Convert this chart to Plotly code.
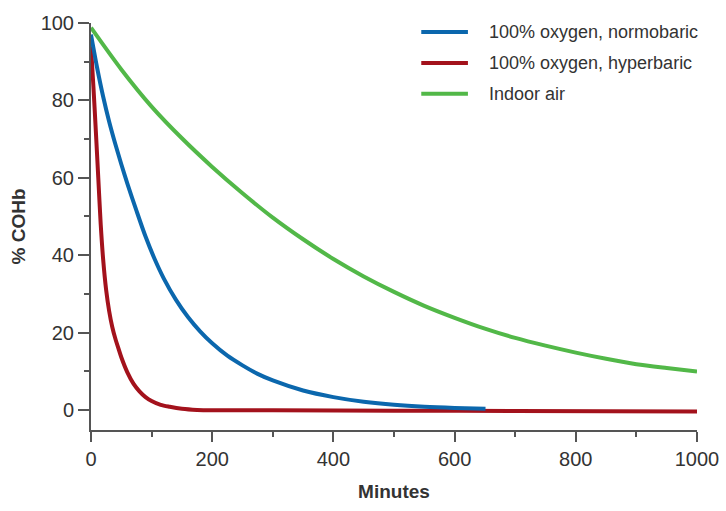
import plotly.graph_objects as go

# curves (minutes, % COHb)
normo_t = [0, 10, 20, 30, 40, 50, 60, 75, 90, 105, 120, 140, 160, 180, 200, 225, 250,
           275, 300, 350, 400, 450, 500, 550, 600, 651]
normo_y = [97, 88.5, 81, 74.5, 68.8, 63.5, 58.5, 51.5, 44.8, 39, 34, 28.5, 24, 20.3, 17.2,
           14, 11.5, 9.3, 7.6, 5, 3.3, 2.1, 1.3, 0.8, 0.5, 0.3]

hyper_t = [0, 4, 8, 12, 16, 20, 25, 30, 35, 40, 45, 50, 60, 70, 80, 90, 100, 115, 130,
           150, 175, 200, 300, 500, 700, 1000]
hyper_y = [94, 83.5, 72, 60, 48, 39, 31, 25.5, 21.5, 18.5, 16, 13.6, 9.7, 6.8, 4.8, 3.3,
           2.3, 1.3, 0.8, 0.3, 0, -0.1, -0.1, -0.2, -0.3, -0.4]

air_t = [0, 50, 100, 150, 200, 250, 300, 350, 400, 450, 500, 550, 600, 650, 700, 750,
         800, 850, 900, 950, 1000]
air_y = [98.8, 88.0, 78.4, 70.2, 62.8, 56.0, 49.7, 44.1, 39.0, 34.5, 30.5, 26.9, 23.8,
         21.0, 18.6, 16.6, 14.8, 13.2, 11.8, 10.8, 9.9]

names = ["100% oxygen, normobaric", "100% oxygen, hyperbaric", "Indoor air"]
colors = ["#0b67ad", "#a3121c", "#52b848"]

x_ticks = [0, 200, 400, 600, 800, 1000]
y_ticks = [0, 20, 40, 60, 80, 100]

font = "Liberation Sans, Arial, sans-serif"
axis_col = "#555555"
text_col = "#333333"

fig = go.Figure()
# hyperbaric drawn first so the normobaric line sits on top where they meet
fig.add_trace(go.Scatter(x=hyper_t, y=hyper_y, mode="lines", name=names[1],
                         line=dict(color=colors[1], width=4, shape="spline", smoothing=0.8)))
fig.add_trace(go.Scatter(x=normo_t, y=normo_y, mode="lines", name=names[0],
                         line=dict(color=colors[0], width=4, shape="spline", smoothing=0.8)))
fig.add_trace(go.Scatter(x=air_t, y=air_y, mode="lines", name=names[2],
                         line=dict(color=colors[2], width=4, shape="spline", smoothing=0.8)))

# hand-made legend (longer line samples than plotly's built-in one)
row_y = [0.978, 0.902, 0.826]
for name, col, yy in zip(names, colors, row_y):
    fig.add_shape(type="line", xref="paper", yref="paper",
                  x0=0.545, x1=0.622, y0=yy, y1=yy,
                  line=dict(color=col, width=4))
    fig.add_annotation(xref="paper", yref="paper", x=0.653, y=yy,
                       text=name, showarrow=False, xanchor="left", yanchor="middle",
                       font=dict(family=font, size=18, color=text_col))

fig.update_xaxes(
    range=[0, 1000], tickvals=x_ticks, ticks="outside", ticklen=10, tickwidth=2,
    tickcolor=axis_col, showline=True, linecolor=axis_col, linewidth=2,
    showgrid=False, zeroline=False, automargin=False,
    minor=dict(dtick=100, ticks="outside", ticklen=5, tickwidth=2, tickcolor=axis_col),
    tickfont=dict(family=font, size=20, color=text_col),
    title=dict(text="<b>Minutes</b>", standoff=16,
               font=dict(family=font, size=19, color=text_col)),
)
fig.update_yaxes(
    range=[-5.2, 100], tickvals=y_ticks, ticks="outside", ticklen=11, tickwidth=2,
    tickcolor=axis_col, showline=True, linecolor=axis_col, linewidth=2,
    showgrid=False, zeroline=False, automargin=False,
    minor=dict(tickvals=[10, 30, 50, 70, 90], ticks="outside", ticklen=5, tickwidth=2,
               tickcolor=axis_col),
    tickfont=dict(family=font, size=20, color=text_col),
    title=dict(text="<b>% COHb</b>", standoff=10,
               font=dict(family=font, size=19, color=text_col)),
)

fig.update_layout(
    width=726, height=511,
    margin=dict(l=91, r=29, t=23, b=81),
    paper_bgcolor="white", plot_bgcolor="white",
    showlegend=False,
)

# drop the browser's default 8px body margin so the figure fills the window
fig.write_html("out.html", config={"displayModeBar": False},
               post_script="document.body.style.margin='0';")
